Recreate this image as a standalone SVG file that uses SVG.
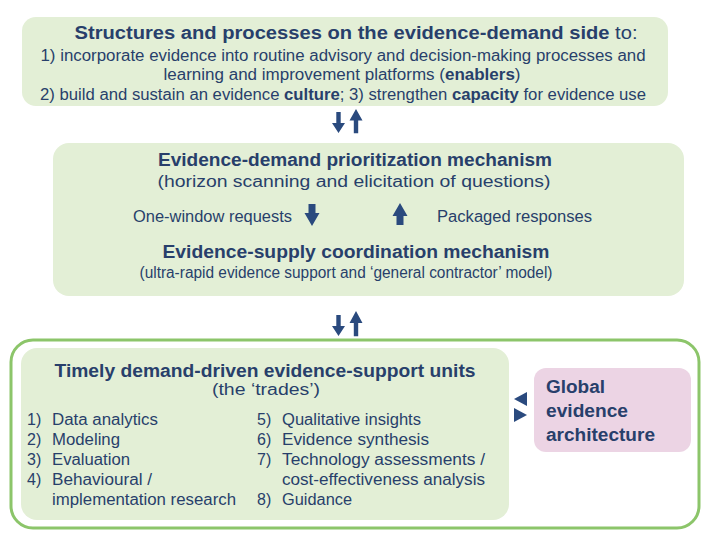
<svg xmlns="http://www.w3.org/2000/svg" width="719" height="540" viewBox="0 0 719 540">
  <defs>
    <style>
      .box { fill: #e3efd6; }
      .pink { fill: #ecd4e4; }
      .frame { fill: none; stroke: #8cc56a; stroke-width: 3; }
      text { font-family: "Liberation Sans", Arial, sans-serif; fill: #283f6b; }
      .b { font-weight: bold; }
      .h { font-size: 17.5px; font-weight: bold; }
      .t { font-size: 16px; }
      .arrow { fill: #2a4a7e; }
    </style>
    <!-- vertical arrow pointing down, tip at origin -->
    <path id="down" d="M-2.2,-21 L2.2,-21 L2.2,-10 L6.5,-10 L0,0 L-6.5,-10 L-2.2,-10 Z"/>
    <!-- shorter, broader arrow for the request/response flow -->
    <path id="fat" d="M-3.5,-22 L3.5,-22 L3.5,-13 L7.5,-13 L0,0 L-7.5,-13 L-3.5,-13 Z"/>
  </defs>

  <!-- demand-side structures -->
  <g id="demand-side">
    <rect class="box" x="22" y="17" width="646" height="89" rx="14"/>
    <text x="356" y="39" text-anchor="middle" class="t" textLength="563" lengthAdjust="spacingAndGlyphs"><tspan class="h">Structures and processes on the evidence-demand side</tspan><tspan font-size="17.5px"> to:</tspan></text>
    <text x="343" y="61" text-anchor="middle" class="t" textLength="605" lengthAdjust="spacingAndGlyphs">1) incorporate evidence into routine advisory and decision-making processes and</text>
    <text x="342" y="80" text-anchor="middle" class="t" textLength="357" lengthAdjust="spacingAndGlyphs">learning and improvement platforms (<tspan class="b">enablers</tspan>)</text>
    <text x="343" y="100" text-anchor="middle" class="t" textLength="606" lengthAdjust="spacingAndGlyphs">2) build and sustain an evidence <tspan class="b">culture</tspan>; 3) strengthen <tspan class="b">capacity</tspan> for evidence use</text>
  </g>

  <!-- prioritization and coordination mechanisms -->
  <g id="mechanisms">
    <rect class="box" x="53" y="143" width="631" height="153" rx="16"/>
    <text x="355" y="166" text-anchor="middle" class="h" textLength="394" lengthAdjust="spacingAndGlyphs">Evidence-demand prioritization mechanism</text>
    <text x="354" y="187" text-anchor="middle" class="t" textLength="393" lengthAdjust="spacingAndGlyphs">(horizon scanning and elicitation of questions)</text>
    <text x="133" y="222" class="t" textLength="159" lengthAdjust="spacingAndGlyphs">One-window requests</text>
    <text x="437" y="222" class="t" textLength="155" lengthAdjust="spacingAndGlyphs">Packaged responses</text>
    <use href="#fat" class="arrow" transform="translate(312,226)"/>
    <use href="#fat" class="arrow" transform="translate(400,203) scale(1,-1)"/>
    <text x="356" y="258" text-anchor="middle" class="h" textLength="387" lengthAdjust="spacingAndGlyphs">Evidence-supply coordination mechanism</text>
    <text x="346" y="278" text-anchor="middle" class="t" textLength="413" lengthAdjust="spacingAndGlyphs">(ultra-rapid evidence support and ‘general contractor’ model)</text>
  </g>

  <!-- evidence-support units and global architecture -->
  <g id="support-frame">
    <rect class="frame" x="11" y="340" width="688" height="188" rx="22"/>
  </g>

  <g id="support-units">
    <rect class="box" x="21" y="348" width="488" height="172" rx="16"/>
    <text x="265" y="377" text-anchor="middle" class="h" textLength="421" lengthAdjust="spacingAndGlyphs">Timely demand-driven evidence-support units</text>
    <text x="266" y="395" text-anchor="middle" class="t" font-size="17px" textLength="108" lengthAdjust="spacingAndGlyphs">(the ‘trades’)</text>
    <g class="t">
      <text x="27" y="425">1)</text><text x="52" y="425" textLength="106" lengthAdjust="spacingAndGlyphs">Data analytics</text>
      <text x="27" y="445">2)</text><text x="52" y="445" textLength="68" lengthAdjust="spacingAndGlyphs">Modeling</text>
      <text x="27" y="465">3)</text><text x="52" y="465" textLength="78" lengthAdjust="spacingAndGlyphs">Evaluation</text>
      <text x="27" y="485">4)</text><text x="52" y="485" textLength="100" lengthAdjust="spacingAndGlyphs">Behavioural /</text>
      <text x="52" y="505" textLength="184" lengthAdjust="spacingAndGlyphs">implementation research</text>
      <text x="257" y="425">5)</text><text x="282" y="425" textLength="139" lengthAdjust="spacingAndGlyphs">Qualitative insights</text>
      <text x="257" y="445">6)</text><text x="282" y="445" textLength="147" lengthAdjust="spacingAndGlyphs">Evidence synthesis</text>
      <text x="257" y="465">7)</text><text x="282" y="465" textLength="203" lengthAdjust="spacingAndGlyphs">Technology assessments /</text>
      <text x="282" y="485" textLength="203" lengthAdjust="spacingAndGlyphs">cost-effectiveness analysis</text>
      <text x="257" y="505">8)</text><text x="282" y="505" textLength="70" lengthAdjust="spacingAndGlyphs">Guidance</text>
    </g>
  </g>

  <g id="global-architecture">
    <rect class="pink" x="534" y="368" width="157" height="84" rx="12"/>
    <text x="546" y="393" class="h" font-size="19px" textLength="59" lengthAdjust="spacingAndGlyphs">Global</text>
    <text x="546" y="417" class="h" font-size="19px" textLength="82" lengthAdjust="spacingAndGlyphs">evidence</text>
    <text x="546" y="441" class="h" font-size="19px" textLength="109" lengthAdjust="spacingAndGlyphs">architecture</text>
  </g>

  <!-- connectors -->
  <g id="connectors" class="arrow">
    <use href="#down" transform="translate(338.5,133)"/>
    <use href="#down" transform="translate(356,109) scale(1,-1.15)"/>
    <use href="#down" transform="translate(338.5,336)"/>
    <use href="#down" transform="translate(356,311) scale(1,-1.2)"/>
    <path d="M514,399 L527,392 L527,406 Z"/>
    <path d="M527,415 L514,408 L514,422 Z"/>
  </g>
</svg>
